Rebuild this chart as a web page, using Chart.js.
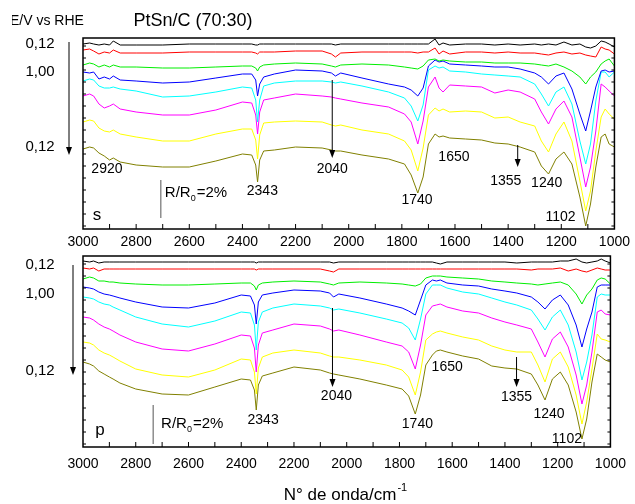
<!DOCTYPE html>
<html>
<head>
<meta charset="utf-8">
<script src="https://cdn.jsdelivr.net/npm/chart.js@4.4.0/dist/chart.umd.min.js"></script>
<style>
  html, body { margin: 0; padding: 0; background: #fff; }
  #wrap { position: relative; width: 635px; height: 504px; overflow: hidden; }
  canvas { position: absolute; left: 0; }
</style>
</head>
<body>
<div id="wrap">
  <canvas id="chartS" width="635" height="250" style="top:0"></canvas>
  <canvas id="chartP" width="635" height="254" style="top:250px"></canvas>
</div>
<script>
/* ---- data (wavenumber in cm-1, offset reflectance in arbitrary units) ---- */
const WAVENUMBERS = [3000, 2975, 2960, 2940, 2920, 2900, 2886, 2860, 2800, 2700,
                     2600, 2500, 2400, 2365, 2350, 2343, 2335, 2320, 2280, 2200,
                     2100, 2065, 2050, 2030, 1950, 1850, 1790, 1765, 1740, 1720,
                     1700, 1675, 1660, 1645, 1620, 1560, 1500, 1450, 1400, 1355,
                     1300, 1275, 1248, 1220, 1190, 1160, 1130, 1108, 1090, 1070,
                     1050, 1035, 1020, 1000];
const X_TICKS = [3000, 2800, 2600, 2400, 2200, 2000, 1800, 1600, 1400, 1200, 1000];
const POTENTIALS = ['0,12', '1,00', '0,12'];
const BANDS = ['2920', '2343', '2040', '1740', '1650', '1355', '1240', '1102'];

// s-polarised spectra, one per potential step (top to bottom)
const S_BLACK   = [185,186,185,184,185,184,188,184,184,184, 185,185,185,185,184,184,185,185,185,185,
                   185,185,184,185,185,185,185,185,185,185, 185,190,184,186,184,185,185,184,185,184,
                   185,184,185,184,187,184,185,182,181,183, 188,187,185,182];
const S_RED     = [179,180,178,175,177,176,179,176,176,176, 177,177,177,177,176,175,177,177,177,178,
                   178,175,172,176,177,177,177,177,176,177, 177,181,175,178,175,177,177,176,177,176,
                   176,175,174,176,177,175,176,174,173,172, 182,180,179,175];
const S_GREEN   = [164,166,165,162,164,162,164,162,162,161, 161,162,163,163,161,158,162,164,165,166,
                   165,163,162,164,165,164,162,161,160,163, 169,170,168,169,168,167,167,166,166,166,
                   165,164,163,165,162,158,152,145,152,157, 165,168,170,163];
const S_BLUE    = [157,156,157,150,152,150,153,149,148,146, 147,151,155,155,149,133,145,152,155,159,
                   158,156,153,156,151,145,142,139,133,141, 163,169,167,168,165,164,163,162,162,160,
                   156,152,145,153,156,140,115,98,118,142, 158,159,157,158];
const S_CYAN    = [148,150,149,143,141,141,142,140,138,132, 133,137,142,141,129,107,129,143,146,148,
                   148,147,146,147,143,137,131,123,108,124, 159,163,161,162,158,157,155,154,153,152,
                   145,135,123,137,142,125,88,65,85,128, 157,157,152,157];
const S_MAGENTA = [133,135,133,125,121,123,125,120,117,114, 114,119,127,126,114,95,117,129,131,135,
                   133,132,131,130,126,122,115,107,85,108, 142,152,141,137,144,143,142,136,139,137,
                   130,117,105,120,128,112,72,42,62,98, 145,142,138,133];
const S_YELLOW  = [107,109,108,101,98,97,99,95,92,88, 88,95,100,100,89,70,94,106,107,108,
                   107,104,103,104,99,95,88,79,58,81, 114,121,118,120,117,118,117,111,112,107,
                   103,88,77,95,107,88,48,18,38,78, 112,120,115,110];
const S_OLIVE   = [80,82,81,76,73,69,71,67,64,62, 62,68,75,74,64,47,69,78,79,82,
                   81,79,78,78,74,70,65,54,36,52, 85,95,92,93,91,90,89,86,85,82,
                   77,63,55,70,77,65,32,3,25,62, 92,95,85,82];

// p-polarised spectra
const P_BLACK   = [186,185,186,184,185,185,185,185,185,185, 185,185,185,185,185,184,185,185,185,185,
                   185,185,184,185,185,185,185,185,185,185, 185,185,184,183,185,185,185,185,185,184,
                   185,185,185,185,186,186,188,185,184,185, 186,188,186,184];
const P_RED     = [179,178,179,176,178,178,178,178,178,178, 178,178,178,178,178,177,178,178,178,178,
                   178,176,175,178,178,178,178,178,178,178, 178,178,178,178,178,178,178,178,178,178,
                   177,178,178,178,179,176,178,176,175,177, 179,178,177,177];
const P_GREEN   = [168,170,169,166,166,165,165,164,163,162, 162,163,164,164,161,157,162,164,165,166,
                   165,163,162,164,165,164,163,162,161,163, 169,171,171,171,170,169,168,166,165,164,
                   163,162,163,164,165,162,153,143,152,158, 167,169,168,163];
const P_BLUE    = [160,159,158,155,153,152,151,149,145,140, 139,144,152,151,142,123,145,152,154,157,
                   156,154,150,153,149,143,139,136,132,147, 162,167,166,167,164,162,161,158,156,154,
                   150,145,138,147,152,142,122,100,118,135, 160,162,162,162];
const P_CYAN    = [150,149,148,145,143,142,140,137,130,123, 120,126,135,134,122,97,125,135,139,143,
                   141,139,137,138,134,128,124,119,107,128, 153,162,162,162,159,155,153,149,145,142,
                   137,128,117,130,137,122,95,67,85,112, 150,153,152,152];
const P_MAGENTA = [130,129,127,123,120,118,116,112,105,98, 96,103,112,111,99,75,102,114,117,123,
                   121,118,116,117,112,105,101,95,78,102, 132,141,142,143,140,136,134,129,125,122,
                   118,105,90,108,115,100,72,43,62,95, 135,137,133,132];
const P_YELLOW  = [105,104,102,97,94,92,90,86,78,72, 70,77,88,87,75,53,79,90,94,97,
                   94,91,90,90,87,82,77,70,52,75, 107,113,115,116,114,110,107,101,97,95,
                   95,82,65,88,95,80,52,23,45,78, 113,108,107,105];
const P_OLIVE   = [85,83,81,76,73,70,68,64,58,53, 52,60,68,67,57,37,62,71,74,80,
                   77,74,73,72,68,62,58,51,33,52, 82,92,96,97,95,91,88,81,79,78,
                   73,62,47,68,75,62,35,8,28,65, 93,90,87,85];

const TRACE_COLORS = ['#000000', '#ff0000', '#00ee00', '#0000ff', '#00ffff', '#ff00ff', '#ffff00', '#808000'];
const FONT = '"Liberation Sans", Arial, sans-serif';

/* ---- helpers ---- */
function makeDatasets(series) {
  return series.map((vals, i) => ({
    data: vals.map((v, j) => ({ x: WAVENUMBERS[j], y: v })),
    borderColor: TRACE_COLORS[i],
    borderWidth: 1,
    pointRadius: 0,
    tension: 0,
    fill: false,
  }));
}

function text(ctx, str, x, y, size, align) {
  ctx.font = size + 'px ' + FONT;
  ctx.textAlign = align || 'center';
  ctx.textBaseline = 'middle';
  ctx.fillStyle = '#000';
  ctx.fillText(str, x, y);
}

function arrow(ctx, x, y1, y2) {
  ctx.strokeStyle = '#000';
  ctx.lineWidth = 1;
  ctx.beginPath(); ctx.moveTo(x, y1); ctx.lineTo(x, y2 - 6); ctx.stroke();
  ctx.fillStyle = '#000';
  ctx.beginPath(); ctx.moveTo(x - 3, y2 - 8); ctx.lineTo(x + 3, y2 - 8); ctx.lineTo(x, y2); ctx.closePath(); ctx.fill();
}

function scaleBar(ctx, x, y1, y2, tx, ty) {
  ctx.strokeStyle = '#555';
  ctx.lineWidth = 1;
  ctx.beginPath(); ctx.moveTo(x, y1); ctx.lineTo(x, y2); ctx.stroke();
  ctx.font = '15px ' + FONT;
  ctx.textAlign = 'left';
  ctx.textBaseline = 'middle';
  ctx.fillStyle = '#000';
  ctx.fillText('R/R', tx, ty);
  let w = ctx.measureText('R/R').width;
  ctx.font = '9px ' + FONT;
  ctx.fillText('0', tx + w, ty + 6);
  w += ctx.measureText('0').width + 1;
  ctx.font = '15px ' + FONT;
  ctx.fillText('=2%', tx + w, ty);
}

/* ---- decorations: frame, inward ticks, labels ---- */
function decoPlugin(cfg) {
  return {
    id: 'deco',
    afterDraw(chart) {
      const { ctx, chartArea: ca } = chart;
      const xs = chart.scales.x, ys = chart.scales.y;
      const X = w => xs.getPixelForValue(w);
      const Y = v => ys.getPixelForValue(v);
      ctx.save();

      // frame
      ctx.strokeStyle = '#000';
      ctx.lineWidth = 1.5;
      ctx.strokeRect(ca.left, ca.top, ca.right - ca.left, ca.bottom - ca.top);

      // inward ticks
      ctx.lineWidth = 1;
      ctx.beginPath();
      for (let w = 1100; w < 3000; w += 100) {
        ctx.moveTo(X(w), ca.bottom); ctx.lineTo(X(w), ca.bottom - 5);
      }
      for (let v = 3; v < 191; v += 12) {
        ctx.moveTo(ca.left, Y(v)); ctx.lineTo(ca.left + 3, Y(v));
        ctx.moveTo(ca.right, Y(v)); ctx.lineTo(ca.right - 3, Y(v));
      }
      ctx.stroke();

      // potential labels and arrow on the left
      cfg.potY.forEach((v, i) => text(ctx, POTENTIALS[i], ca.left - 43, Y(v), 15));
      arrow(ctx, ca.left + cfg.potArrow[0], Y(cfg.potArrow[1]), Y(cfg.potArrow[2]));

      // polarisation letter
      text(ctx, cfg.pol[0], X(cfg.pol[1]), Y(cfg.pol[2]), 17);

      // scale bar
      const sb = cfg.bar;
      scaleBar(ctx, X(sb[0]), Y(sb[1]), Y(sb[2]), X(sb[3]), Y(sb[4]));

      // band labels
      cfg.bands.forEach(b => text(ctx, BANDS[b[0]], X(b[1]), Y(b[2]), 14));
      cfg.arrows.forEach(a => arrow(ctx, X(a[0]), Y(a[1]), Y(a[2])));

      if (cfg.extra) cfg.extra(ctx);
      ctx.restore();
    }
  };
}

function makeChart(id, series, padTop, axisHeight, tickPad, cfg) {
  return new Chart(document.getElementById(id), {
    type: 'line',
    data: { datasets: makeDatasets(series) },
    options: {
      responsive: false,
      animation: false,
      devicePixelRatio: 1,
      layout: { padding: { left: 83, right: 19, top: padTop, bottom: 0 } },
      plugins: { legend: { display: false }, tooltip: { enabled: false } },
      scales: {
        x: {
          type: 'linear', min: 1000, max: 3000, reverse: true,
          afterBuildTicks: s => { s.ticks = X_TICKS.map(v => ({ value: v })); },
          afterFit: s => { s.height = axisHeight; },
          grid: { display: false, drawTicks: false },
          border: { display: false },
          ticks: { color: '#000', font: { size: 14, family: FONT }, padding: tickPad, maxRotation: 0,
                   autoSkip: false, callback: v => String(v) },
        },
        y: { display: false, min: 0, max: 191 },
      },
    },
    plugins: [decoPlugin(cfg)],
  });
}

makeChart('chartS',
  [S_BLACK, S_RED, S_GREEN, S_BLUE, S_CYAN, S_MAGENTA, S_YELLOW, S_OLIVE],
  38, 21, 5,
  {
    potY: [185, 157, 82],
    potArrow: [-14, 187, 74],
    pol: ['s', 2947, 14],
    bar: [2707, 49, 11, 2692, 36],
    bands: [[0, 2910, 60], [1, 2325, 38], [2, 2062, 60], [3, 1743, 29], [4, 1604, 72],
            [5, 1409, 48], [6, 1255, 46], [7, 1203, 12]],
    arrows: [[2062, 149, 71], [1364, 84, 62]],
    extra(ctx) {
      text(ctx, 'PtSn/C (70:30)', 193, 21, 18);
      ctx.save();
      ctx.beginPath(); ctx.rect(12, 0, 200, 40); ctx.clip();
      text(ctx, 'E/V vs RHE', 10, 21, 14, 'left');
      ctx.restore();
    }
  });

makeChart('chartP',
  [P_BLACK, P_RED, P_GREEN, P_BLUE, P_CYAN, P_MAGENTA, P_YELLOW, P_OLIVE],
  6, 57, 9,
  {
    potY: [182, 153, 76],
    potArrow: [-10, 182, 72],
    pol: ['p', 2936, 17],
    bar: [2734, 42, 3, 2704, 23],
    bands: [[1, 2317, 27], [2, 2039, 51], [3, 1732, 23], [4, 1619, 80],
            [5, 1356, 50], [6, 1233, 33], [7, 1165, 8]],
    arrows: [[2054, 139, 60], [1356, 90, 60]],
    extra(ctx) {
      ctx.font = '17px ' + FONT;
      const main = 'N\u00b0 de onda/cm';
      const w = ctx.measureText(main).width;
      ctx.font = '11px ' + FONT;
      const ws = ctx.measureText('-1').width;
      const x0 = 345 - (w + ws) / 2;
      text(ctx, main, x0, 245, 17, 'left');
      text(ctx, '-1', x0 + w + 1, 238, 11, 'left');
    }
  });
</script>
</body>
</html>
